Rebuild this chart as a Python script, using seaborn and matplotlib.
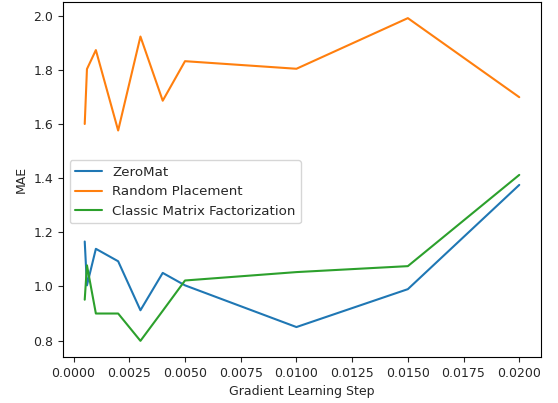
import pandas as pd
import seaborn as sns
import matplotlib
matplotlib.use('Agg')
import matplotlib.pyplot as plt

steps = [0.0005, 0.0006, 0.001, 0.002, 0.003, 0.004, 0.005, 0.01, 0.015, 0.02]
zeromat = [1.166, 1.004, 1.139, 1.093, 0.912, 1.050, 1.004, 0.850, 0.990, 1.375]
random_placement = [1.600, 1.803, 1.873, 1.576, 1.923, 1.686, 1.832, 1.804, 1.991, 1.699]
classic_mf = [0.951, 1.078, 0.900, 0.900, 0.799, 0.910, 1.022, 1.053, 1.075, 1.412]

names = ['ZeroMat', 'Random Placement', 'Classic Matrix Factorization']
df = pd.concat([
    pd.DataFrame({'step': steps, 'MAE': vals, 'method': name})
    for name, vals in zip(names, [zeromat, random_placement, classic_mf])
], ignore_index=True)

sns.set_style('white')
plt.rcParams['font.family'] = ['DejaVu Sans']
plt.rcParams['font.size'] = 9

fig = plt.figure(figsize=(5.58, 4.03), dpi=100)
ax = fig.add_axes([63 / 558, 1 - 357 / 403, 478 / 558, 355 / 403])
sns.lineplot(data=df, x='step', y='MAE', hue='method', hue_order=names,
             palette=['#1f77b4', '#ff7f0e', '#2ca02c'], sort=False,
             linewidth=1.5, ax=ax)
ax.set_xlabel('Gradient Learning Step', fontsize=9)
ax.set_ylabel('MAE', fontsize=9)
ax.tick_params(axis='both', which='both', direction='out', length=3.5,
               width=0.8, labelsize=9, bottom=True, left=True)
for s in ax.spines.values():
    s.set_color('black')
    s.set_linewidth(0.8)
handles, labels = ax.get_legend_handles_labels()
ax.legend(handles, labels, loc='center left', bbox_to_anchor=(0, 0.465),
          fontsize=9.6, frameon=True, edgecolor='#cccccc')
fig.savefig('out.png', dpi=100)
